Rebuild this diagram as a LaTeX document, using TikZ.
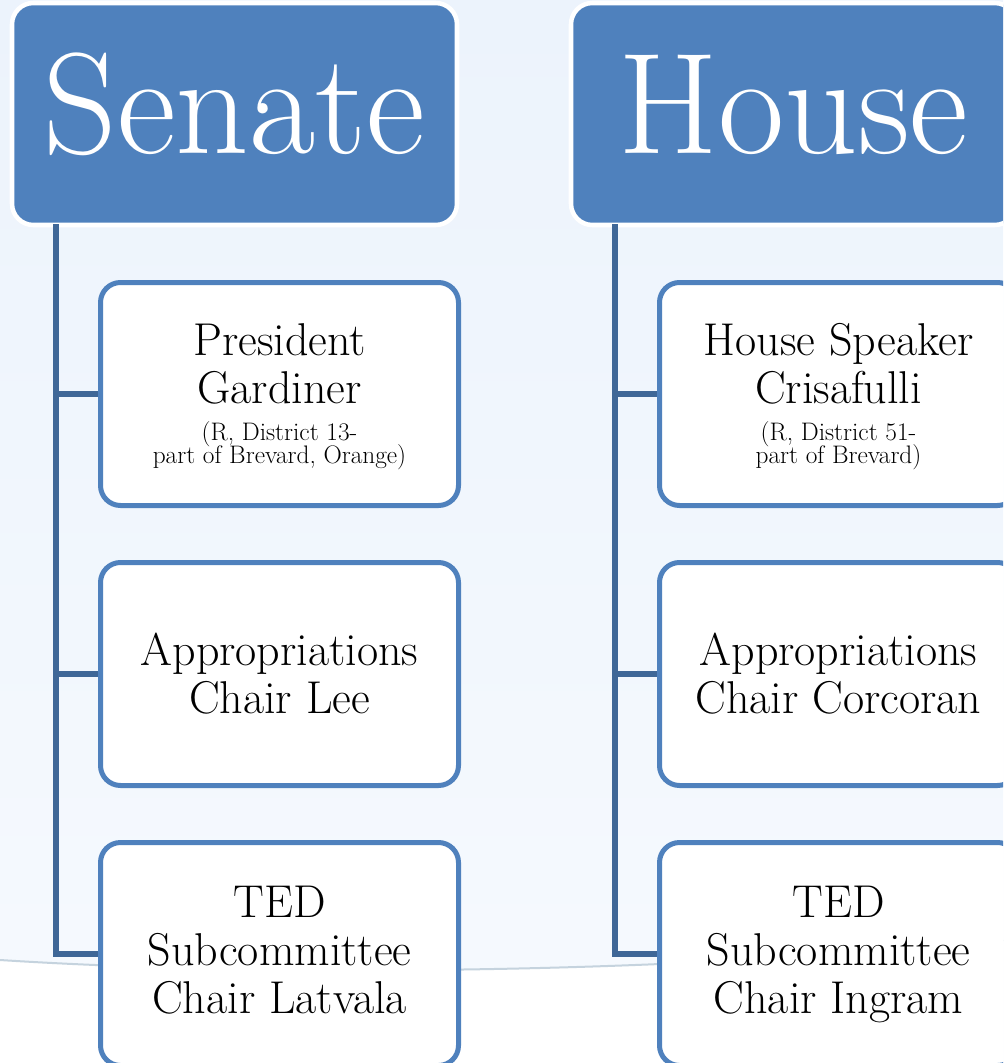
\documentclass[tikz,border=0pt]{standalone}
\usepackage{fontspec}
\definecolor{hdr}{HTML}{4F81BD}
\definecolor{conn}{HTML}{3F6797}
\definecolor{bgtop}{HTML}{ECF3FC}
\definecolor{bgmid}{HTML}{F6FAFE}
\definecolor{swoosh}{HTML}{C5D3DE}
\tikzset{
  headbox/.style={draw=white, line width=3.4pt, fill=hdr, rounded corners=16pt,
    minimum width=333.75pt, minimum height=166.5pt, inner sep=0pt},
  childbox/.style={draw=hdr, line width=3.75pt, fill=white, rounded corners=15pt,
    minimum width=268.5pt, minimum height=167.25pt, inner sep=0pt},
  connector/.style={draw=conn, line width=4pt},
  headtext/.style={anchor=base, text=white, inner sep=0pt, font=\fontsize{108}{116}\selectfont},
  bigtext/.style={anchor=base, inner sep=0pt, font=\fontsize{34.5}{38}\selectfont},
  smalltext/.style={anchor=base, inner sep=0pt, font=\fontsize{19}{20}\selectfont}
}
\begin{document}
\begin{tikzpicture}[x=0.75pt,y=-0.75pt]
\useasboundingbox (0,0) rectangle (1003,1063);
\clip (0,0) rectangle (1003,1063);
% background
\shade[top color=bgtop, bottom color=bgmid] (0,0) rectangle (1003,1063);
\fill[white] (0,960) .. controls (250,976) and (650,976) .. (1003,940) -- (1003,1063) -- (0,1063) -- cycle;
\draw[swoosh, line width=1.5pt] (0,960) .. controls (250,976) and (650,976) .. (1003,940);

% headers
\node[headbox] (sen) at (234.5,114) {};
\node[headbox] (hou) at (793.5,114) {};
\node[headtext] (sent) at (234.5,153) {Senate};
\node[headtext] (hout) at (793.5,153) {House};

% senate children
\node[childbox] (s1) at (279.5,394) {};
\node[childbox] (s2) at (279.5,674) {};
\node[childbox] (s3) at (279.5,954) {};
% house children
\node[childbox] (h1) at (838.5,394) {};
\node[childbox] (h2) at (838.5,674) {};
\node[childbox] (h3) at (838.5,954) {};

% connectors
\coordinate (stop) at (56,224);
\coordinate (htop) at (615,224);
\draw[connector] (stop) |- (s3.west);
\draw[connector] (stop |- s1.west) -- (s1.west);
\draw[connector] (stop |- s2.west) -- (s2.west);
\draw[connector] (htop) |- (h3.west);
\draw[connector] (htop |- h1.west) -- (h1.west);
\draw[connector] (htop |- h2.west) -- (h2.west);

% senate texts
\node[bigtext] (s1a) at (279.5,355) {President};
\node[bigtext] (s1b) at (279.5,403) {Gardiner};
\node[smalltext] (s1c) at (279.5,440) {(R, District 13-};
\node[smalltext] (s1d) at (279.5,463) {part of Brevard, Orange)};
\node[bigtext] (s2a) at (279.5,665) {Appropriations};
\node[bigtext] (s2b) at (279.5,713) {Chair Lee};
\node[bigtext] (s3a) at (279.5,917) {TED};
\node[bigtext] (s3b) at (279.5,965) {Subcommittee};
\node[bigtext] (s3c) at (279.5,1013) {Chair Latvala};

% house texts
\node[bigtext] (h1a) at (838.5,355) {House Speaker};
\node[bigtext] (h1b) at (838.5,403) {Crisafulli};
\node[smalltext] (h1c) at (838.5,440) {(R, District 51-};
\node[smalltext] (h1d) at (838.5,463) {part of Brevard)};
\node[bigtext] (h2a) at (838.5,665) {Appropriations};
\node[bigtext] (h2b) at (838.5,713) {Chair Corcoran};
\node[bigtext] (h3a) at (838.5,917) {TED};
\node[bigtext] (h3b) at (838.5,965) {Subcommittee};
\node[bigtext] (h3c) at (838.5,1013) {Chair Ingram};
\end{tikzpicture}
\end{document}
